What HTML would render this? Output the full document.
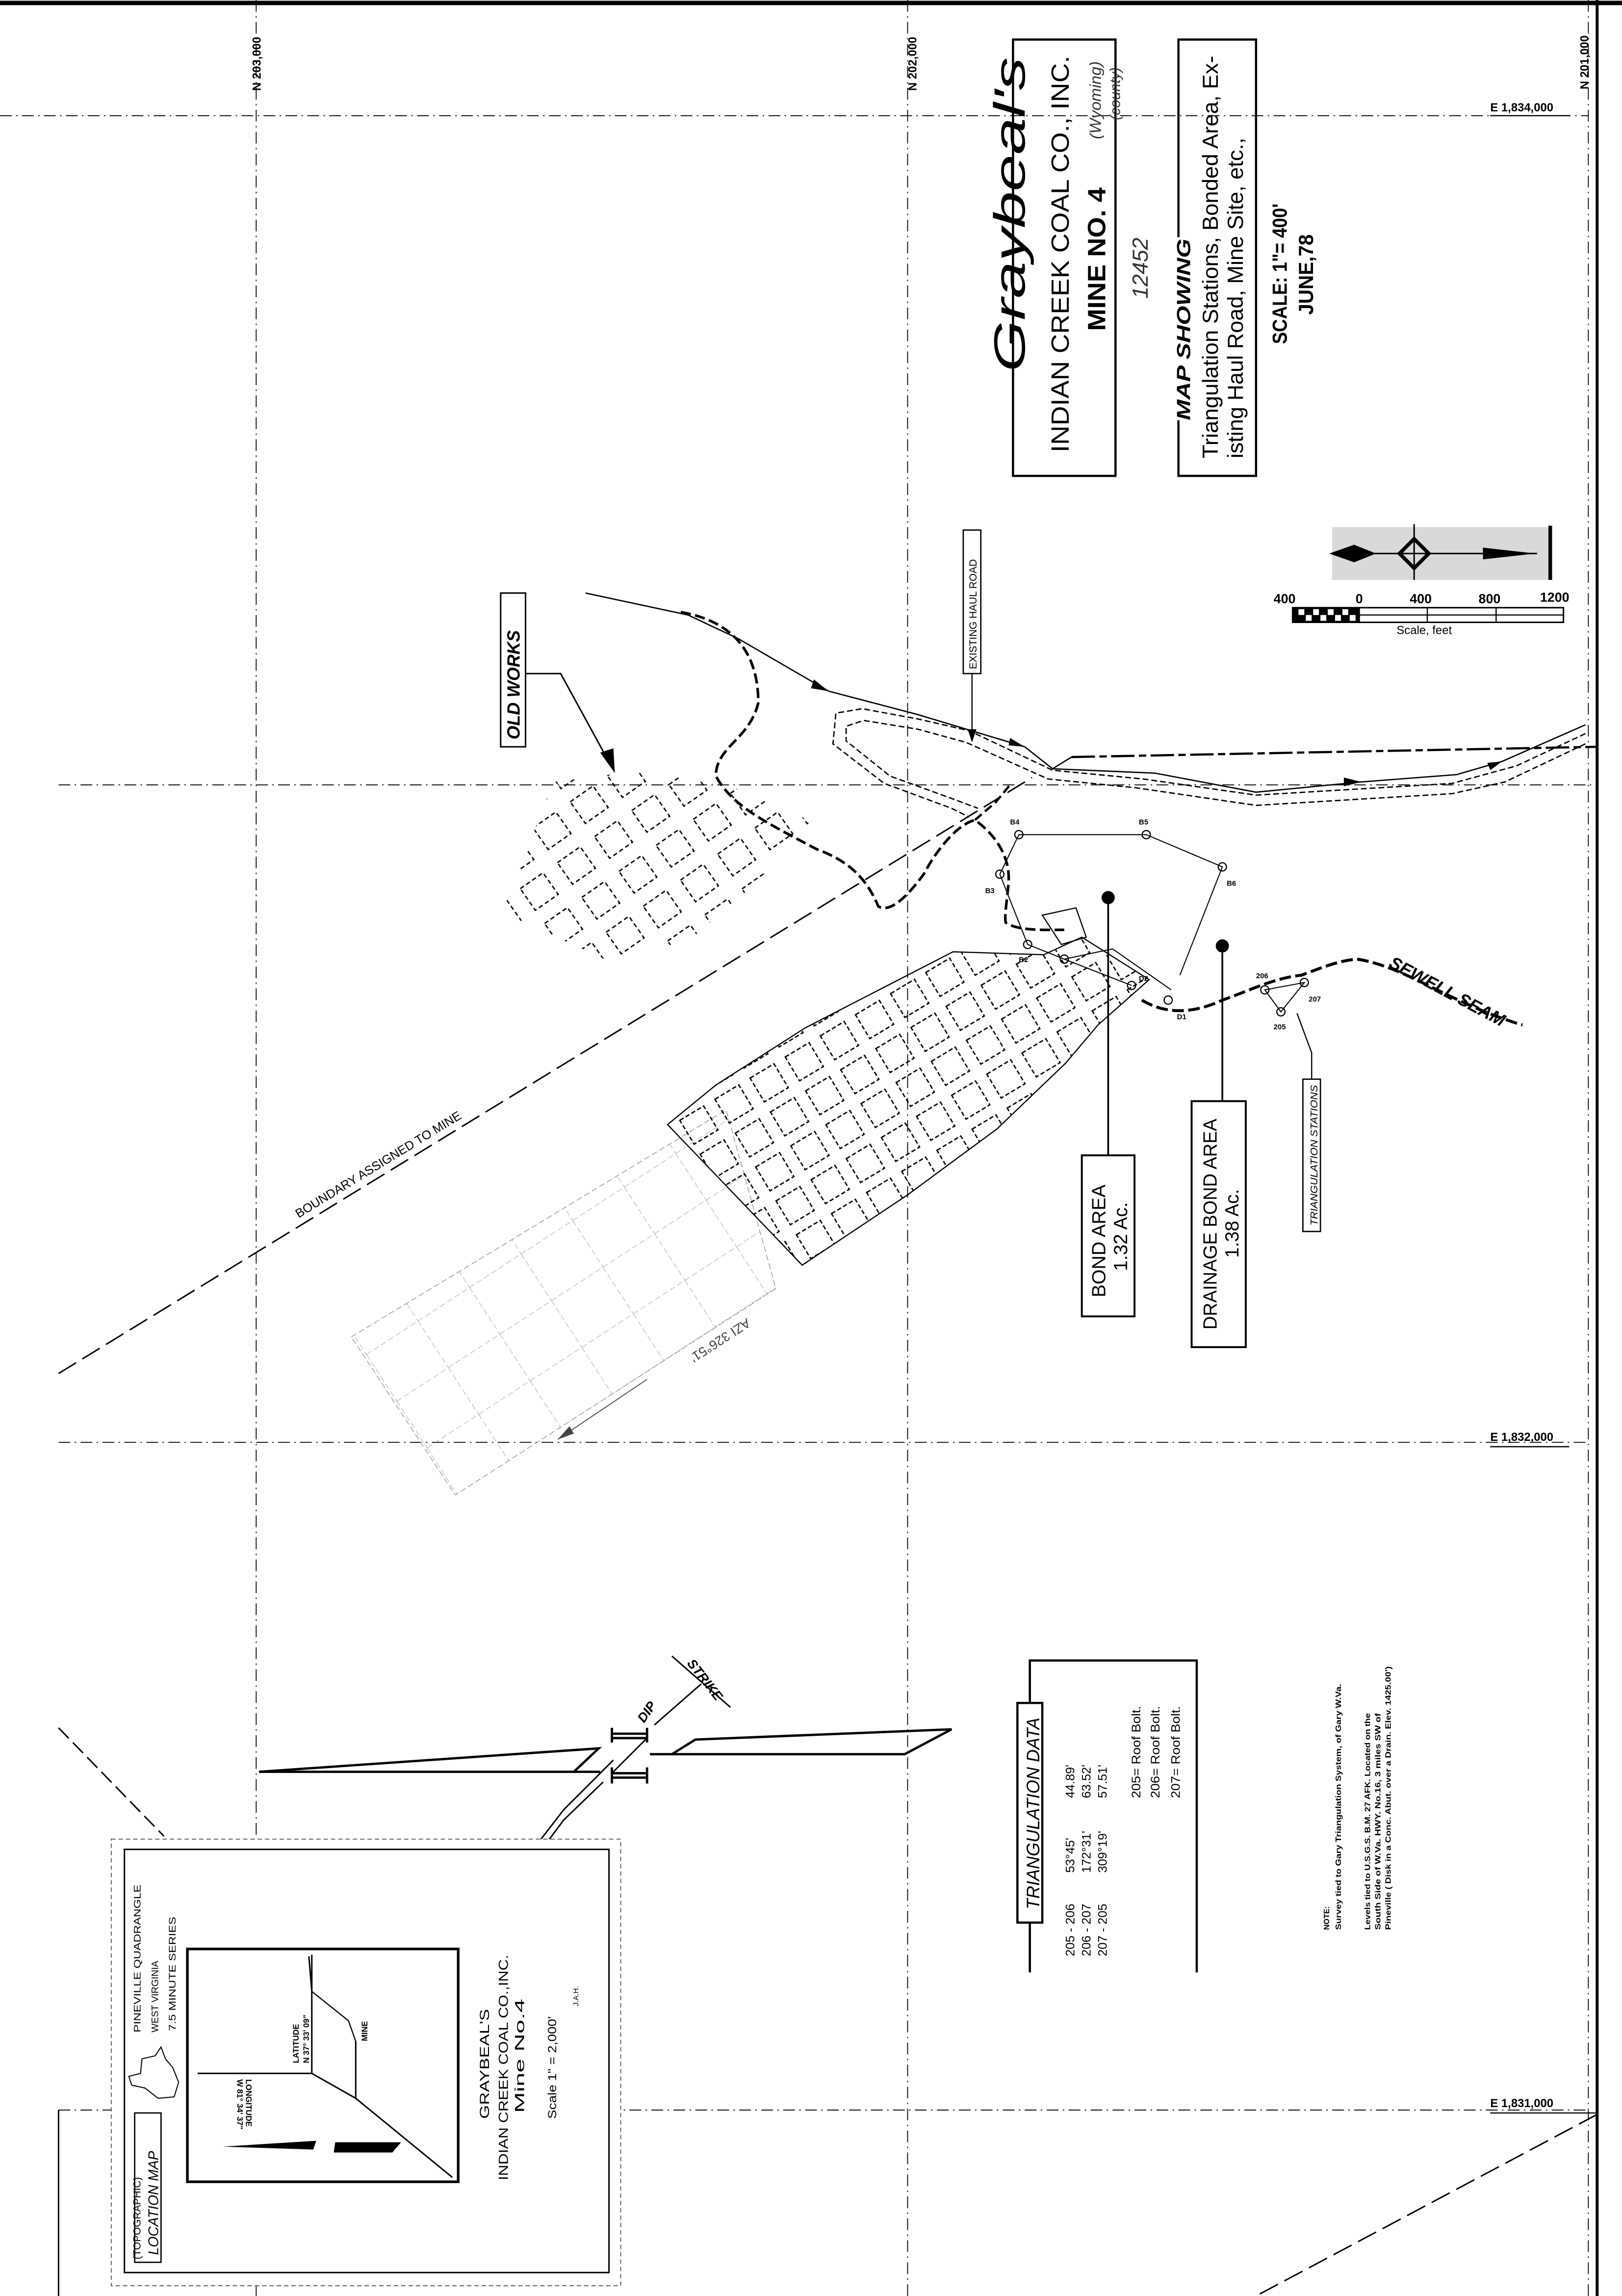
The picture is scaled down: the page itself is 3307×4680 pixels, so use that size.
<!DOCTYPE html>
<html><head><meta charset="utf-8"><style>
html,body{margin:0;padding:0;background:#fff}
svg{display:block}
text{font-family:"Liberation Sans",sans-serif;fill:#000}
</style></head><body>
<svg width="3307" height="4680" viewBox="0 0 1108 1568" xmlns="http://www.w3.org/2000/svg">
<defs>
<pattern id="mw" width="28" height="27" patternUnits="userSpaceOnUse" patternTransform="rotate(-31)">
<rect x="4" y="4" width="19" height="19" fill="none" stroke="#000" stroke-width="0.9" stroke-dasharray="3,1.6"/>
</pattern>
<pattern id="ow" width="31" height="29" patternUnits="userSpaceOnUse" patternTransform="rotate(-35)">
<rect x="5" y="5" width="19" height="18" fill="none" stroke="#000" stroke-width="0.9" stroke-dasharray="3,2"/>
</pattern>
<pattern id="fg" width="42" height="38" patternUnits="userSpaceOnUse" patternTransform="rotate(-33)">
<path d="M0 0H42M0 0V38" stroke="#888" stroke-width="0.5" stroke-dasharray="4,2" fill="none"/>
</pattern>
<clipPath id="mwc"><path d="M456 768L489 741L550 702L651 650L713 652L739 640L785 669L750 700L728 726L681 771L620 816L548 864Z"/></clipPath>
<clipPath id="owc"><path d="M343 623L378 534L440 526L497 536L559 563L520 600L471 642L415 656Z"/></clipPath>
</defs>
<rect width="1108" height="1568" fill="#fff"/>
<!-- borders -->
<path d="M0 2H1108" stroke="#000" stroke-width="3"/>
<path d="M1091 0V1568" stroke="#000" stroke-width="2"/>
<path d="M40 1441V1568" stroke="#000" stroke-width="1"/>
<!-- grid lines -->
<g stroke="#000" stroke-width="0.6" stroke-dasharray="8,3,1,3" fill="none">
<path d="M0 79H1085"/><path d="M40 536H1091"/><path d="M40 985H1085"/><path d="M40 1441H1085"/>
<path d="M175 0V1568"/><path d="M620 0V1568"/><path d="M1085 0V1568"/>
</g>
<path d="M1018 79H1072M1018 988H1072M1018 1443H1091" stroke="#000" stroke-width="0.8"/>
<text font-size="8" font-weight="bold" transform="translate(178,62) rotate(-90)">N 203,000</text>
<text font-size="8" font-weight="bold" transform="translate(626,62) rotate(-90)">N 202,000</text>
<text font-size="8" font-weight="bold" transform="translate(1085,61) rotate(-90)">N 201,000</text>
<text x="1018" y="76" font-size="8" font-weight="bold">E 1,834,000</text>
<text x="1018" y="984" font-size="8" font-weight="bold">E 1,832,000</text>
<text x="1018" y="1439" font-size="8" font-weight="bold">E 1,831,000</text>

<!-- boundary line -->
<path d="M40 938L705 531" stroke="#000" stroke-width="1" stroke-dasharray="14,5"/>
<text font-size="8.5" transform="translate(204,832) rotate(-31.5)">BOUNDARY  ASSIGNED TO MINE</text>

<!-- faded grid -->
<path d="M240 913L496 758L530 880L311 1021Z" fill="url(#fg)" stroke="#999" stroke-width="0.5" stroke-dasharray="4,2"/>
<text font-size="9" style="fill:#444" transform="translate(510,900) rotate(147)">AZI 326°51'</text>
<path d="M442 942L381 983" stroke="#444" stroke-width="0.6"/>
<path d="M381 983L389 974L392 979Z" fill="#444"/>

<!-- old works -->
<rect x="330" y="515" width="240" height="150" fill="url(#ow)" clip-path="url(#owc)"/>
<rect x="342" y="405" width="17" height="105" fill="#fff" stroke="#000" stroke-width="1"/>
<text font-size="12" font-weight="bold" font-style="italic" transform="translate(355,505) rotate(-90)">OLD WORKS</text>
<path d="M359 460H383L418 524" stroke="#000" stroke-width="1" fill="none"/>
<path d="M420 528L410 514L419 511Z" fill="#000"/>

<!-- main workings -->
<rect x="440" y="630" width="350" height="240" fill="url(#mw)" clip-path="url(#mwc)"/>
<path d="M456 768L489 741L550 702L651 650L713 652L739 640L785 669L750 700L728 726L681 771L620 816L548 864Z" fill="none" stroke="#000" stroke-width="0.8"/>

<!-- haul road -->
<g fill="none" stroke="#000" stroke-width="0.9" stroke-dasharray="4,2">
<path d="M1083 501L1036 523L992 535L858 543L781 532L719 526L662 499L627 491L589 484L571 487L569 508L604 535L650 552L662 558"/>
<path d="M1083 508L1028 534L992 542L858 550L776 538L716 532L660 507L627 498L590 492L578 496L578 506L608 530L652 546L668 552"/>
</g>
<path d="M400 405L470 420L504 436L566 472L627 488L700 510L719 525L789 528L858 541L930 534L995 529L1026 520L1083 495" fill="none" stroke="#000" stroke-width="0.9"/>
<g fill="#000"><path d="M566 472L556 464L554 470Z"/><path d="M700 510L690 504L689 509Z"/><path d="M930 534L918 531L918 537Z"/><path d="M1026 520L1016 521L1018 526Z"/></g>
<path d="M732 517L1091 510" stroke="#000" stroke-width="1.5" stroke-dasharray="16,3,5,3"/>
<path d="M732 517L719 525" stroke="#000" stroke-width="0.9"/>
<rect x="658" y="362" width="12" height="98" fill="#fff" stroke="#000" stroke-width="0.9"/>
<text font-size="7" transform="translate(667,457) rotate(-90)">EXISTING HAUL ROAD</text>
<path d="M664 460V505" stroke="#000" stroke-width="0.8"/>
<path d="M664 507L661 498H667Z" fill="#000"/>

<!-- outcrop thick dashed -->
<path d="M465 418C505 425 518 450 518 480C512 505 489 510 489 530C500 550 520 560 558 580C580 588 592 600 600 619C610 625 625 605 631 597C640 580 654 563 666 560C680 570 690 585 689 602C688 615 686 625 687 630C695 636 715 635 727 635" fill="none" stroke="#000" stroke-width="1.8" stroke-dasharray="7,3"/>
<path d="M666 560L680 548L690 536" fill="none" stroke="#000" stroke-width="1.6" stroke-dasharray="6,3"/>
<path d="M780 683C800 695 820 690 835 683C855 676 870 668 889 666C905 660 915 656 927 655C960 660 990 685 1040 700" fill="none" stroke="#000" stroke-width="2" stroke-dasharray="8,3"/>
<text font-size="12" font-weight="bold" font-style="italic" transform="translate(948,660) rotate(28)">SEWELL SEAM</text>

<!-- traverse stations -->
<g fill="none" stroke="#000" stroke-width="0.7">
<path d="M696 570L783 570L835 592L806 666"/>
<path d="M696 570L683 597L702 645L727 655L773 673"/>
<path d="M727 655L760 648L800 676"/>
<path d="M864 676L891 671L875 691Z"/>
</g>
<g fill="none" stroke="#000" stroke-width="0.8">
<circle cx="696" cy="570" r="2.8"/><circle cx="783" cy="570" r="2.8"/><circle cx="835" cy="592" r="2.8"/>
<circle cx="683" cy="597" r="2.8"/><circle cx="702" cy="645" r="2.8"/><circle cx="727" cy="655" r="2.8"/>
<circle cx="773" cy="673" r="2.8"/><circle cx="798" cy="683" r="2.8"/><circle cx="864" cy="676" r="2.8"/><circle cx="891" cy="671" r="2.8"/><circle cx="875" cy="691" r="2.8"/>
</g>
<path d="M712 625L735 620L742 640L725 645Z" fill="none" stroke="#000" stroke-width="0.8"/>
<g font-size="5" font-weight="bold">
<text x="690" y="563">B4</text><text x="778" y="563">B5</text><text x="838" y="605">B6</text><text x="673" y="610">B3</text>
<text x="696" y="657">B2</text><text x="778" y="670">D2</text><text x="804" y="696">D1</text><text x="858" y="668">206</text><text x="894" y="684">207</text><text x="870" y="703">205</text>
</g>

<!-- bond area -->
<circle cx="757" cy="613" r="4.5" fill="#000"/>
<path d="M757 613V789" stroke="#000" stroke-width="1.2"/>
<rect x="739" y="789" width="36" height="110" fill="#fff" stroke="#000" stroke-width="1.3"/>
<text font-size="13" transform="translate(755,886) rotate(-90)" textLength="77" lengthAdjust="spacingAndGlyphs">BOND  AREA</text>
<text font-size="13" transform="translate(770,868) rotate(-90)">1.32 Ac.</text>
<circle cx="835" cy="646" r="4.5" fill="#000"/>
<path d="M835 646V752" stroke="#000" stroke-width="1.2"/>
<rect x="814" y="752" width="37" height="168" fill="#fff" stroke="#000" stroke-width="1.3"/>
<text font-size="13" transform="translate(831,908) rotate(-90)" textLength="144" lengthAdjust="spacingAndGlyphs">DRAINAGE BOND AREA</text>
<text font-size="13" transform="translate(846,859) rotate(-90)">1.38 Ac.</text>
<rect x="890" y="737" width="12" height="104" fill="#fff" stroke="#000" stroke-width="0.9"/>
<text font-size="6.8" font-style="italic" transform="translate(900,837) rotate(-90)" textLength="96" lengthAdjust="spacingAndGlyphs">TRIANGULATION   STATIONS</text>
<path d="M896 737V719L886 692" stroke="#000" stroke-width="0.8" fill="none"/>

<!-- title block -->
<rect x="692" y="27" width="70" height="298" fill="none" stroke="#000" stroke-width="1.5"/>
<text font-family="Liberation Serif" font-size="30" font-style="italic" transform="translate(700,254) rotate(-90)" textLength="215" lengthAdjust="spacingAndGlyphs">Graybeal's</text>
<text font-size="17" transform="translate(730,309) rotate(-90)" textLength="271" lengthAdjust="spacingAndGlyphs">INDIAN CREEK COAL CO., INC.</text>
<text font-size="17" font-weight="bold" transform="translate(755,226) rotate(-90)" textLength="98" lengthAdjust="spacingAndGlyphs">MINE  NO. 4</text>
<text font-family="Liberation Serif" font-size="11" font-style="italic" style="fill:#333" transform="translate(752,95) rotate(-90)">(Wyoming)</text>
<text font-family="Liberation Serif" font-size="10" font-style="italic" style="fill:#333" transform="translate(765,82) rotate(-90)">(county)</text>
<text font-family="Liberation Serif" font-size="15" font-style="italic" style="fill:#333" transform="translate(784,204) rotate(-90)">12452</text>
<path d="M805 162V27H858V325H805V287" fill="none" stroke="#000" stroke-width="1.5"/>
<text font-size="13" font-weight="bold" font-style="italic" transform="translate(813,287) rotate(-90)" textLength="124" lengthAdjust="spacingAndGlyphs">MAP SHOWING</text>
<text font-size="15" transform="translate(832,313) rotate(-90)" textLength="275" lengthAdjust="spacingAndGlyphs">Triangulation Stations, Bonded Area, Ex-</text>
<text font-size="15" transform="translate(849,313) rotate(-90)" textLength="219" lengthAdjust="spacingAndGlyphs">isting Haul Road, Mine Site, etc.,</text>
<text font-size="14" font-weight="bold" transform="translate(879,235) rotate(-90)" textLength="96" lengthAdjust="spacingAndGlyphs">SCALE: 1"= 400'</text>
<text font-size="14" font-weight="bold" transform="translate(897,215) rotate(-90)" textLength="55" lengthAdjust="spacingAndGlyphs">JUNE,78</text>

<!-- north arrow / scale -->
<rect x="910" y="360" width="150" height="36" fill="#aaa" opacity="0.45"/>
<path d="M908 378L925 372L940 378L925 384Z" fill="#000"/>
<path d="M956 378L966 368L976 378L966 388Z" fill="none" stroke="#000" stroke-width="2.5"/>
<path d="M925 378H1050M966 358V396" stroke="#000" stroke-width="1"/>
<path d="M1013 374L1049 378L1013 382Z" fill="#000"/>
<path d="M1059 359V396" stroke="#000" stroke-width="2.5"/>
<g font-size="9" font-weight="bold"><text x="870" y="412">400</text><text x="926" y="412">0</text><text x="963" y="412">400</text><text x="1010" y="412">800</text><text x="1052" y="411">1200</text></g>
<rect x="883" y="415" width="185" height="10" fill="#fff" stroke="#000" stroke-width="1"/>
<rect x="883" y="415" width="46" height="10" fill="#000"/>
<g fill="#fff"><rect x="887" y="416" width="4" height="4"/><rect x="897" y="416" width="4" height="4"/><rect x="907" y="416" width="4" height="4"/><rect x="917" y="416" width="4" height="4"/><rect x="892" y="420" width="4" height="4"/><rect x="902" y="420" width="4" height="4"/><rect x="912" y="420" width="4" height="4"/><rect x="922" y="420" width="4" height="4"/></g>
<path d="M975 415V425M1022 415V425M929 420H1068" stroke="#000" stroke-width="0.8"/>
<text x="954" y="433" font-size="8">Scale, feet</text>

<!-- dip/strike -->
<g fill="none" stroke="#000" stroke-width="1.6" stroke-linejoin="miter">
<path d="M177 1210L409 1194L392 1210H410"/>
<path d="M177 1210H392"/>
<path d="M444 1198H618L650 1181L475 1188L459 1198"/>
<path d="M418 1180V1190M442 1180V1190M418 1184H442M418 1187H442"/>
<path d="M418 1207V1218M442 1207V1218M418 1211H442M418 1214H442"/>
</g>
<g fill="none" stroke="#000" stroke-width="1">
<path d="M442 1187L419 1210"/>
<path d="M419 1202L385 1236L341 1293"/>
<path d="M412 1217L385 1243L350 1290"/>
<path d="M447 1178L479 1150"/>
<path d="M459 1131L499 1166"/>
</g>
<text font-size="9" font-weight="bold" font-style="italic" transform="translate(440,1177) rotate(-55)">DIP</text>
<text font-size="9" font-weight="bold" font-style="italic" transform="translate(469,1136) rotate(52)">STRIKE</text>
<path d="M40 1180L112 1254" stroke="#000" stroke-width="1" stroke-dasharray="10,4"/>

<!-- location map -->
<rect x="76" y="1256" width="348" height="305" fill="#fff" stroke="#555" stroke-width="0.6" stroke-dasharray="3,2"/>
<rect x="85" y="1263" width="331" height="289" fill="none" stroke="#000" stroke-width="1"/>
<rect x="92" y="1443" width="18" height="102" fill="#fff" stroke="#000" stroke-width="0.9"/>
<text font-size="7" transform="translate(96,1543) rotate(-90)">(TOPOGRAPHIC)</text>
<text font-size="9.5" font-style="italic" transform="translate(108,1540) rotate(-90)">LOCATION MAP</text>
<text font-size="6.5" transform="translate(96,1388) rotate(-90)" textLength="101" lengthAdjust="spacingAndGlyphs">PINEVILLE QUADRANGLE</text>
<text font-size="6.5" transform="translate(108,1388) rotate(-90)">WEST VIRGINIA</text>
<text font-size="6.5" transform="translate(120,1387) rotate(-90)" textLength="78" lengthAdjust="spacingAndGlyphs">7.5 MINUTE SERIES</text>
<path d="M88 1418L96 1416L97 1406L106 1404L110 1398L113 1406L118 1412L122 1422L119 1432L108 1433L99 1426L90 1424Z" fill="none" stroke="#000" stroke-width="0.7"/>
<rect x="128" y="1331" width="185" height="159" fill="none" stroke="#000" stroke-width="1.8"/>
<path d="M213 1335V1416H135M213 1416L243 1433L309 1487M243 1394V1433M213 1360L211 1336" stroke="#000" stroke-width="1" fill="none"/>
<path d="M213 1360L238 1380L243 1394" stroke="#000" stroke-width="0.8" fill="none"/>
<path d="M152 1466L216 1462L214 1468Z M229 1463L274 1463L268 1470L228 1470Z" fill="#000"/>
<text font-size="5.5" font-weight="bold" transform="translate(204,1409) rotate(-90)">LATITUDE</text>
<text font-size="5.5" font-weight="bold" transform="translate(211,1409) rotate(-90)">N 37° 33' 09"</text>
<text font-size="5.5" font-weight="bold" transform="translate(162,1420) rotate(90)">W 81° 34' 37"</text>
<text font-size="5.5" font-weight="bold" transform="translate(168,1420) rotate(90)">LONGITUDE</text>
<text font-size="5.5" font-weight="bold" transform="translate(251,1394) rotate(-90)">MINE</text>
<text font-size="9" transform="translate(334,1447) rotate(-90)" textLength="75" lengthAdjust="spacingAndGlyphs">GRAYBEAL'S</text>
<text font-size="9" transform="translate(347,1489) rotate(-90)" textLength="154" lengthAdjust="spacingAndGlyphs">INDIAN CREEK COAL CO.,INC.</text>
<text font-size="9" transform="translate(358,1443) rotate(-90)" textLength="78" lengthAdjust="spacingAndGlyphs">Mine   No.4</text>
<text font-size="8" transform="translate(380,1447) rotate(-90)" textLength="70" lengthAdjust="spacingAndGlyphs">Scale 1" = 2,000'</text>
<text font-size="5" transform="translate(395,1370) rotate(-90)">J.A.H.</text>

<!-- triangulation data -->
<path d="M703.5 1347V1134H817.5V1347" fill="none" stroke="#000" stroke-width="1.5"/>
<rect x="695" y="1163" width="17" height="150" fill="#fff" stroke="#000" stroke-width="1.5"/>
<text font-size="12.5" font-style="italic" transform="translate(710,1304) rotate(-90)" textLength="131" lengthAdjust="spacingAndGlyphs">TRIANGULATION  DATA</text>
<g font-size="8.5">
<text transform="translate(734,1336) rotate(-90)">205 - 206</text>
<text transform="translate(745,1336) rotate(-90)">206 - 207</text>
<text transform="translate(756,1336) rotate(-90)">207 - 205</text>
<text transform="translate(734,1279) rotate(-90)">53°45'</text>
<text transform="translate(745,1279) rotate(-90)">172°31'</text>
<text transform="translate(756,1279) rotate(-90)">309°19'</text>
<text transform="translate(734,1228) rotate(-90)">44.89'</text>
<text transform="translate(745,1228) rotate(-90)">63.52'</text>
<text transform="translate(756,1228) rotate(-90)">57.51'</text>
<text transform="translate(779,1228) rotate(-90)" textLength="63" lengthAdjust="spacingAndGlyphs">205= Roof  Bolt.</text>
<text transform="translate(792,1228) rotate(-90)" textLength="63" lengthAdjust="spacingAndGlyphs">206= Roof  Bolt.</text>
<text transform="translate(806,1228) rotate(-90)" textLength="63" lengthAdjust="spacingAndGlyphs">207= Roof  Bolt.</text>
</g>
<g font-size="5.2" font-weight="bold">
<text transform="translate(908,1318) rotate(-90)">NOTE:</text>
<text transform="translate(916,1318) rotate(-90)" textLength="168" lengthAdjust="spacingAndGlyphs">Survey tied to Gary Triangulation System, of Gary W.Va.</text>
<text transform="translate(936,1318) rotate(-90)" textLength="148" lengthAdjust="spacingAndGlyphs">Levels tied to U.S.G.S. B.M. 27 AFK. Located on the</text>
<text transform="translate(943,1318) rotate(-90)" textLength="148" lengthAdjust="spacingAndGlyphs">South Side of W.Va. HWY. No.16, 3 miles SW of</text>
<text transform="translate(950,1318) rotate(-90)" textLength="180" lengthAdjust="spacingAndGlyphs">Pineville ( Disk in a Conc. Abut. over a Drain. Elev. 1425.00')</text>
</g>
<path d="M1091 1444L858 1568" stroke="#000" stroke-width="1" stroke-dasharray="14,5"/>
</svg>
</body></html>
